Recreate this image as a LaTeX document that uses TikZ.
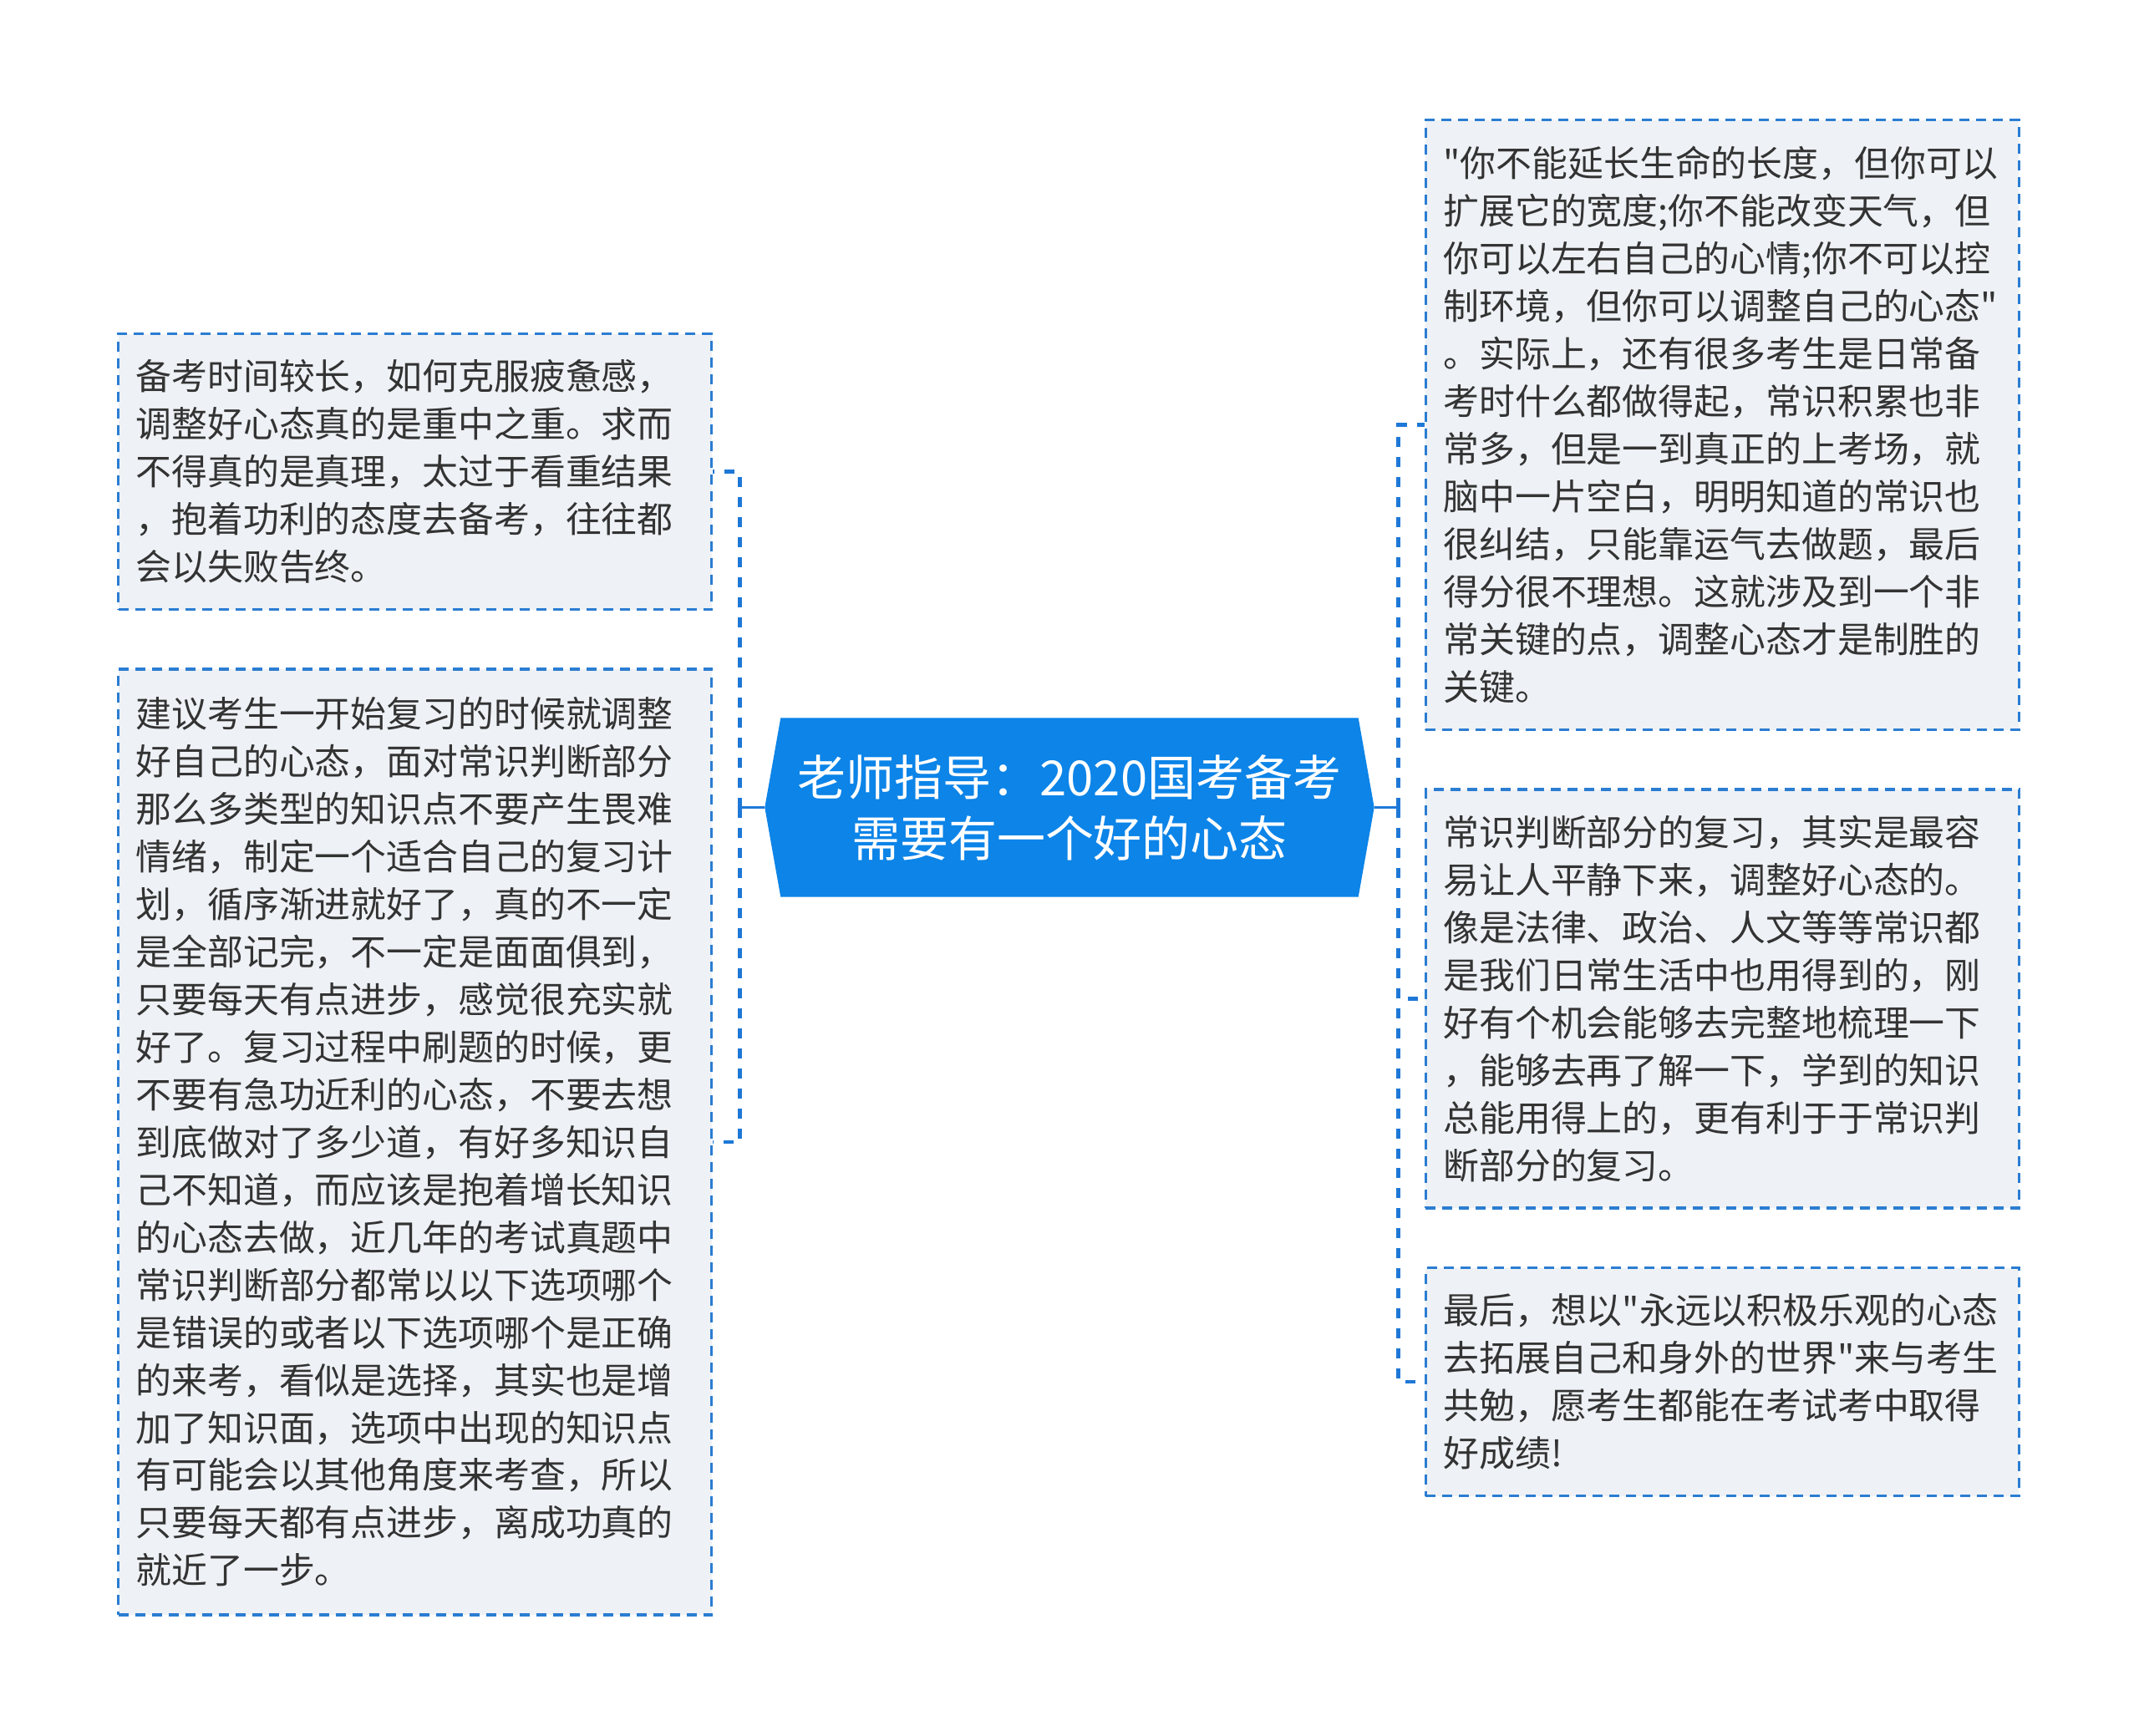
\documentclass[tikz,border=0pt]{standalone}
\usepackage{fontspec}
\newfontfamily\cjkfont{Noto Sans CJK SC}
\usetikzlibrary{positioning, calc, backgrounds}
\definecolor{rootfill}{RGB}{12,132,232}
\definecolor{leaffill}{RGB}{238,241,245}
\definecolor{leafborder}{RGB}{43,125,210}
\definecolor{linkcol}{RGB}{30,120,215}
\definecolor{textcol}{RGB}{51,51,51}

\begin{document}
\begin{tikzpicture}[
                        font=\cjkfont\fontsize{12.2}{16.2}\selectfont,
                        root/.style={
                                rectangle, inner sep=0pt,
                                minimum width=6.9cm, minimum height=2.13cm,
                                align=center, text=white,
                                font=\cjkfont\fontsize{16.5}{20.8}\selectfont
                            },
                        leaf/.style={
                                rectangle, draw=leafborder, fill=leaffill,
                                line width=1pt, dash pattern=on 0.12cm off 0.08cm,
                                text=textcol, align=left,
                                text width=6.68cm, inner xsep=0.21cm, inner ysep=0pt
                            },
                        link/.style={draw=linkcol, line width=1.3pt, dash pattern=on 0.12cm off 0.12cm},
                        stub/.style={draw=linkcol, line width=1.1pt}
                    ]

                    % ===== Canvas =====
                    \begin{scope}[on background layer]
                        \fill[white] (-12.8,-11.105) rectangle (12.8,9.665);
                    \end{scope}
                    \useasboundingbox (-12.8,-11.105) rectangle (12.8,9.665);

                    % ===== Root (hexagon) =====
                    \node[root] (root) {老师指导：2020国考备考\\需要有一个好的心态};
                    \coordinate (root-l) at ($(root.west)+(-0.19,0)$);
                    \coordinate (root-r) at ($(root.east)+(0.19,0)$);
                    \begin{scope}[on background layer]
                        \fill[rootfill] (root.north west) -- (root.north east) -- (root-r)
                        -- (root.south east) -- (root.south west) -- (root-l) -- cycle;
                    \end{scope}

                    % ===== Left leaves =====
                    \node[leaf, minimum height=3.30cm, above left=4.02cm and 0.62cm of root-l, anchor=east] (prep) {
                    备考时间较长，如何克服疲惫感，\\
                    调整好心态真的是重中之重。求而\\
                    不得真的是真理，太过于看重结果\\
                    ，抱着功利的态度去备考，往往都\\
                    会以失败告终。
                    };

                    \node[leaf, minimum height=11.32cm, below=0.68cm of prep] (advice) {
                    建议考生一开始复习的时候就调整\\
                    好自己的心态，面对常识判断部分\\
                    那么多类型的知识点不要产生畏难\\
                    情绪，制定一个适合自己的复习计\\
                    划，循序渐进就好了，真的不一定\\
                    是全部记完，不一定是面面俱到，\\
                    只要每天有点进步，感觉很充实就\\
                    好了。复习过程中刷题的时候，更\\
                    不要有急功近利的心态，不要去想\\
                    到底做对了多少道，有好多知识自\\
                    己不知道，而应该是抱着增长知识\\
                    的心态去做，近几年的考试真题中\\
                    常识判断部分都常以以下选项哪个\\
                    是错误的或者以下选项哪个是正确\\
                    的来考，看似是选择，其实也是增\\
                    加了知识面，选项中出现的知识点\\
                    有可能会以其他角度来考查，所以\\
                    只要每天都有点进步，离成功真的\\
                    就近了一步。
                    };

                    % ===== Right leaves =====
                    \node[leaf, minimum height=7.30cm, above right=4.58cm and 0.6cm of root-r, anchor=west] (quote) {
                    "你不能延长生命的长度，但你可以\\
                    扩展它的宽度;你不能改变天气，但\\
                    你可以左右自己的心情;你不可以控\\
                    制环境，但你可以调整自己的心态"\\
                    。实际上，还有很多考生是日常备\\
                    考时什么都做得起，常识积累也非\\
                    常多，但是一到真正的上考场，就\\
                    脑中一片空白，明明知道的常识也\\
                    很纠结，只能靠运气去做题，最后\\
                    得分很不理想。这就涉及到一个非\\
                    常关键的点，调整心态才是制胜的\\
                    关键。
                    };

                    \node[leaf, minimum height=5.01cm, below=0.68cm of quote] (review) {
                    常识判断部分的复习，其实是最容\\
                    易让人平静下来，调整好心态的。\\
                    像是法律、政治、人文等等常识都\\
                    是我们日常生活中也用得到的，刚\\
                    好有个机会能够去完整地梳理一下\\
                    ，能够去再了解一下，学到的知识\\
                    总能用得上的，更有利于于常识判\\
                    断部分的复习。
                    };

                    \node[leaf, minimum height=2.73cm, below=0.68cm of review] (wish) {
                    最后，想以"永远以积极乐观的心态\\
                    去拓展自己和身外的世界"来与考生\\
                    共勉，愿考生都能在考试考中取得\\
                    好成绩!
                    };

                    % ===== Connectors =====
                    \coordinate[left=0.30cm of root-l] (trunk-l);
                    \coordinate[right=0.29cm of root-r] (trunk-r);

                    \draw[link] (trunk-l) |- (prep.east);
                    \draw[link] (trunk-l) |- (advice.east);
                    \draw[link] (trunk-r) |- (quote.west);
                    \draw[link] (trunk-r) |- (review.west);
                    \draw[link] (trunk-r) |- (wish.west);

                    \draw[stub] (root-l) -- (trunk-l);
                    \draw[stub] (root-r) -- (trunk-r);

                \end{tikzpicture}
\end{document}
